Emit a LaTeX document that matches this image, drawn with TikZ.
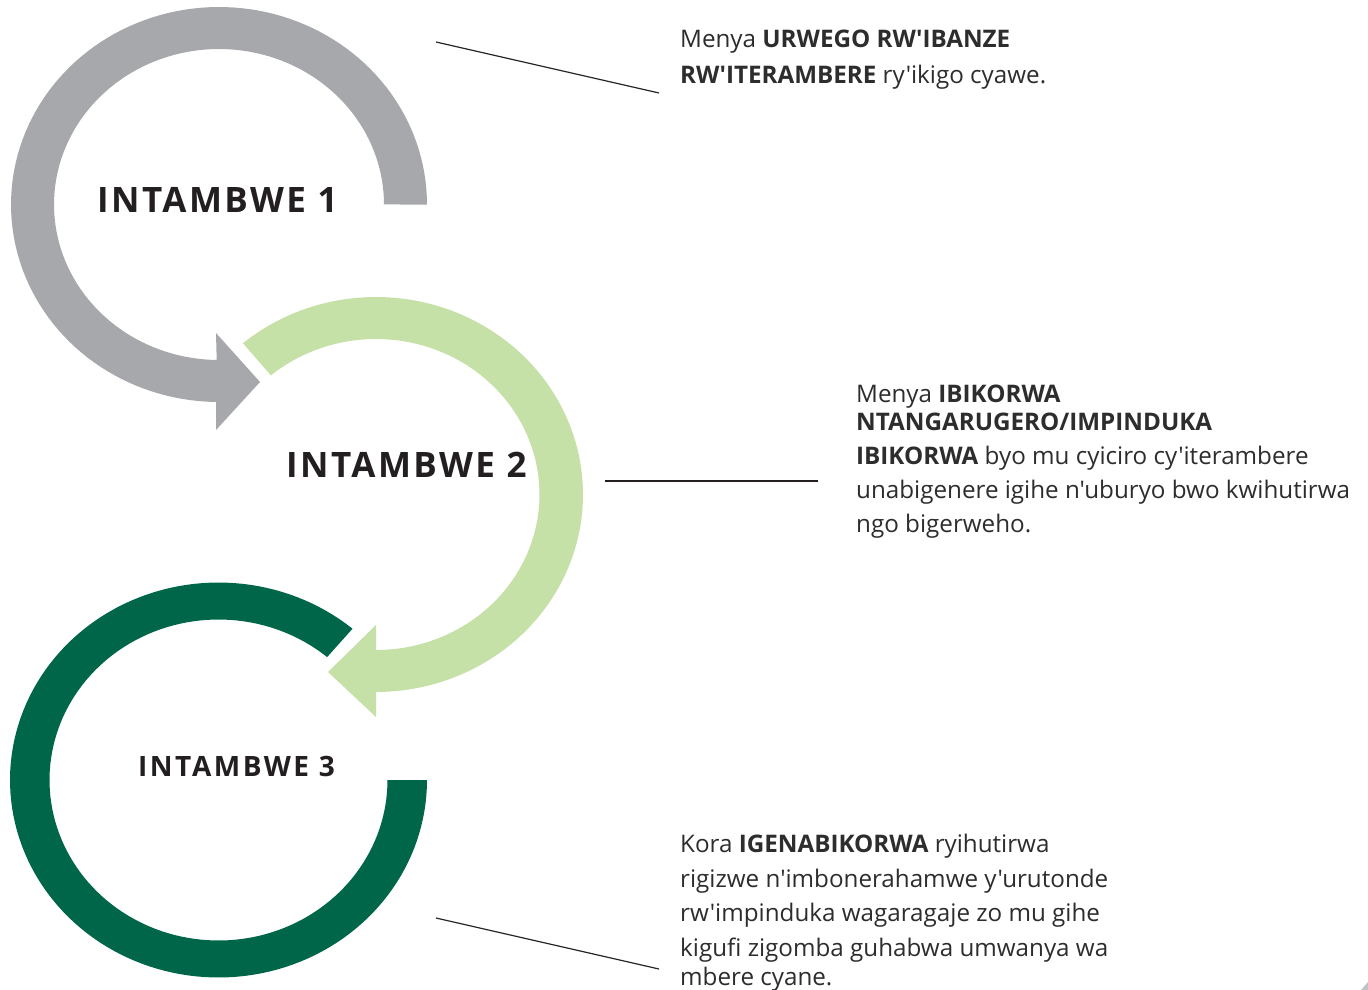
\documentclass[tikz,border=0pt]{standalone}
\usepackage{fontspec}
\setmainfont{Open Sans}[Ligatures=TeXOff]
\newfontfamily\headfont{Open Sans}[Ligatures=TeXOff,LetterSpace=7,BoldFont={* Bold}]
\newfontfamily\headfontsmall{Open Sans}[Ligatures=TeXOff,LetterSpace=9,BoldFont={* Bold}]
\definecolor{ringgray}{RGB}{167,168,172}
\definecolor{ringlight}{RGB}{197,225,168}
\definecolor{ringdark}{RGB}{0,102,73}
\definecolor{headtext}{RGB}{35,31,32}
\definecolor{bodytext}{RGB}{45,45,45}
\begin{document}
\begin{tikzpicture}[x=1pt,y=-1pt,
  heading/.style={anchor=base west,inner sep=0pt,text=headtext,font=\headfont\bfseries\fontsize{35}{40}\selectfont},
  headingsmall/.style={anchor=base west,inner sep=0pt,text=headtext,font=\headfontsmall\bfseries\fontsize{28}{32}\selectfont},
  bodyline/.style={anchor=base west,inner sep=0pt,text=bodytext,font=\fontsize{24.2}{29}\selectfont},
  leader/.style={draw=black!85,line width=1.2pt},
  leaderthick/.style={draw=headtext,line width=2.6pt}]
\useasboundingbox (0,0) rectangle (1368,990);
\fill[white] (0,0) rectangle (1368,990);
% ring 1 (gray)
\fill[ringgray] plot[domain=0:-269.2,samples=120] ({219+208*cos(\x)},{204.5+197.5*sin(\x)})
  -- (216,430) -- (260,382) -- (216,333)
  -- plot[domain=-269.2:0,samples=120] ({219+165*cos(\x)},{204.5+155.5*sin(\x)}) -- cycle;
% ring 2 (light green)
\fill[ringlight] plot[domain=-130:90,samples=120] ({376+207*cos(\x)},{494.5+197.5*sin(\x)})
  -- (376,717) -- (328,672) -- (376,625)
  -- plot[domain=90:-130,samples=120] ({376+163.5*cos(\x)},{494.5+155.5*sin(\x)}) -- cycle;
% ring 3 (dark green)
\fill[ringdark] plot[domain=-50:-360,samples=140] ({218.5+208.5*cos(\x)},{780+197.5*sin(\x)})
  -- plot[domain=-360:-50,samples=140] ({218.5+169*cos(\x)},{780+160.5*sin(\x)}) -- cycle;
% headings
\node[heading] (h1) at (97,212) {INTAMBWE 1};
\node[heading] (h2) at (286,477) {INTAMBWE 2};
\node[headingsmall] (h3) at (138,776) {INTAMBWE 3};
% leader lines
\coordinate (l1a) at (436,42);
\coordinate (l1b) at (659,93);
\coordinate (l2a) at (605,481);
\coordinate (l2b) at (818,481);
\coordinate (l3a) at (436,918);
\coordinate (l3b) at (659,969);
\draw[leader] (l1a) -- (l1b);
\draw[leaderthick] (l2a) -- (l2b);
\draw[leader] (l3a) -- (l3b);
% text block 1
\node[bodyline] (t1a) at (680,48) {Menya \textbf{URWEGO RW'IBANZE}};
\node[bodyline] (t1b) at (680,83) {\textbf{RW'ITERAMBERE} ry'ikigo cyawe.};
% text block 2
\node[bodyline] (t2a) at (856,402) {Menya \textbf{IBIKORWA}};
\node[bodyline] (t2b) at (856,430) {\textbf{NTANGARUGERO/IMPINDUKA}};
\node[bodyline] (t2c) at (856,464) {\textbf{IBIKORWA} byo mu cyiciro cy'iterambere};
\node[bodyline] (t2d) at (856,498) {unabigenere igihe n'uburyo bwo kwihutirwa};
\node[bodyline] (t2e) at (856,532) {ngo bigerweho.};
% text block 3
\node[bodyline] (t3a) at (680,852) {Kora \textbf{IGENABIKORWA} ryihutirwa};
\node[bodyline] (t3b) at (680,887) {rigizwe n'imbonerahamwe y'urutonde};
\node[bodyline] (t3c) at (680,921) {rw'impinduka wagaragaje zo mu gihe};
\node[bodyline] (t3d) at (680,956) {kigufi zigomba guhabwa umwanya wa};
\node[bodyline] (t3e) at (680,985) {mbere cyane.};
% corner mark
\fill[ringgray!70] (1361,990) -- (1368,982) -- (1368,990) -- cycle;
\end{tikzpicture}
\end{document}
